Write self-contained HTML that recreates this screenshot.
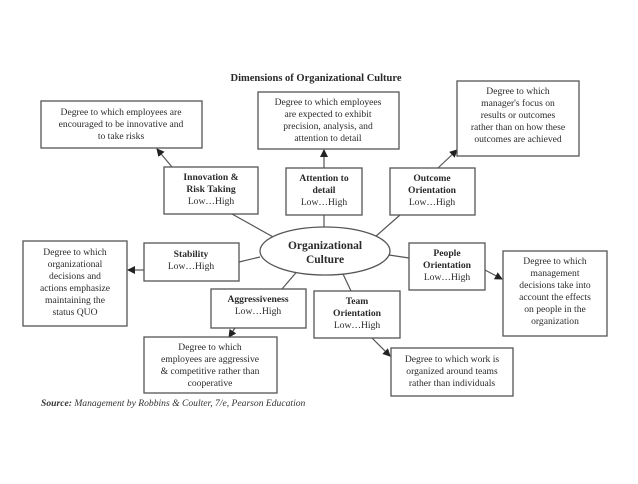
<!DOCTYPE html>
<html><head><style>
body{margin:0;background:#fff;}
.t{font-family:"Liberation Serif",serif;font-size:9.6px;fill:#2a2a2a;text-anchor:middle;}
.b{font-weight:bold;}
rect{fill:#fff;stroke:#555;stroke-width:1.3;}
line{stroke:#555;stroke-width:1.2;}
</style></head><body>
<svg width="638" height="479" viewBox="0 0 638 479" xmlns="http://www.w3.org/2000/svg">
<defs><marker id="a" markerWidth="8" markerHeight="8" refX="7" refY="4" orient="auto" markerUnits="userSpaceOnUse"><path d="M0,0 L8,4 L0,8 z" fill="#222"/></marker></defs>
<text x="316" y="81" class="t b" style="font-size:10.5px">Dimensions of Organizational Culture</text>
<!-- connectors -->
<line x1="232" y1="214" x2="275" y2="238"/>
<line x1="324" y1="215" x2="324" y2="227"/>
<line x1="400" y1="215" x2="375" y2="237"/>
<line x1="239" y1="262" x2="260" y2="257"/>
<line x1="282" y1="289" x2="300" y2="268"/>
<line x1="351" y1="291" x2="343" y2="274"/>
<line x1="409" y1="258" x2="389" y2="255"/>
<line x1="172" y1="167" x2="157" y2="149" marker-end="url(#a)"/>
<line x1="324" y1="168" x2="324" y2="150" marker-end="url(#a)"/>
<line x1="438" y1="168" x2="457" y2="150" marker-end="url(#a)"/>
<line x1="144" y1="270" x2="128" y2="270" marker-end="url(#a)"/>
<line x1="235" y1="328" x2="229" y2="337" marker-end="url(#a)"/>
<line x1="485" y1="270" x2="502" y2="279" marker-end="url(#a)"/>
<line x1="372" y1="338" x2="390" y2="356" marker-end="url(#a)"/>
<ellipse cx="325" cy="251" rx="65" ry="24" fill="#fff" stroke="#555" stroke-width="1.3"/>
<text x="325" y="249" class="t b" style="font-size:11.5px">Organizational</text>
<text x="325" y="263" class="t b" style="font-size:11.5px">Culture</text>
<!-- desc boxes -->
<rect x="41" y="101" width="161" height="47"/>
<text class="t" x="121" y="115">Degree to which employees are</text>
<text class="t" x="121" y="127">encouraged to be innovative and</text>
<text class="t" x="121" y="139">to take risks</text>
<rect x="258" y="92" width="141" height="57"/>
<text class="t" x="328" y="105">Degree to which employees</text>
<text class="t" x="328" y="117">are expected to exhibit</text>
<text class="t" x="328" y="129">precision, analysis, and</text>
<text class="t" x="328" y="141">attention to detail</text>
<rect x="457" y="81" width="122" height="75"/>
<text class="t" x="518" y="94">Degree to which</text>
<text class="t" x="518" y="106">manager's focus on</text>
<text class="t" x="518" y="118">results or outcomes</text>
<text class="t" x="518" y="130">rather than on how these</text>
<text class="t" x="518" y="142">outcomes are achieved</text>
<rect x="23" y="241" width="104" height="85"/>
<text class="t" x="75" y="255">Degree to which</text>
<text class="t" x="75" y="267">organizational</text>
<text class="t" x="75" y="279">decisions and</text>
<text class="t" x="75" y="291">actions emphasize</text>
<text class="t" x="75" y="303">maintaining the</text>
<text class="t" x="75" y="315">status QUO</text>
<rect x="144" y="337" width="133" height="56"/>
<text class="t" x="210" y="350">Degree to which</text>
<text class="t" x="210" y="362">employees are aggressive</text>
<text class="t" x="210" y="374">&amp; competitive rather than</text>
<text class="t" x="210" y="386">cooperative</text>
<rect x="503" y="251" width="104" height="85"/>
<text class="t" x="555" y="264">Degree to which</text>
<text class="t" x="555" y="276">management</text>
<text class="t" x="555" y="288">decisions take into</text>
<text class="t" x="555" y="300">account the effects</text>
<text class="t" x="555" y="312">on people in the</text>
<text class="t" x="555" y="324">organization</text>
<rect x="391" y="348" width="122" height="48"/>
<text class="t" x="452" y="362">Degree to which work is</text>
<text class="t" x="452" y="374">organized around teams</text>
<text class="t" x="452" y="386">rather than individuals</text>
<!-- dimension boxes -->
<rect x="164" y="167" width="94" height="47"/>
<text class="t b" x="211" y="180">Innovation &amp;</text>
<text class="t b" x="211" y="192">Risk Taking</text>
<text class="t" x="211" y="204">Low…High</text>
<rect x="286" y="168" width="76" height="47"/>
<text class="t b" x="324" y="181">Attention to</text>
<text class="t b" x="324" y="193">detail</text>
<text class="t" x="324" y="205">Low…High</text>
<rect x="390" y="168" width="85" height="47"/>
<text class="t b" x="432" y="181">Outcome</text>
<text class="t b" x="432" y="193">Orientation</text>
<text class="t" x="432" y="205">Low…High</text>
<rect x="144" y="243" width="95" height="38"/>
<text class="t b" x="191" y="257">Stability</text>
<text class="t" x="191" y="269">Low…High</text>
<rect x="211" y="289" width="95" height="39"/>
<text class="t b" x="258" y="302">Aggressiveness</text>
<text class="t" x="258" y="314">Low…High</text>
<rect x="409" y="243" width="76" height="47"/>
<text class="t b" x="447" y="256">People</text>
<text class="t b" x="447" y="268">Orientation</text>
<text class="t" x="447" y="280">Low…High</text>
<rect x="314" y="291" width="86" height="47"/>
<text class="t b" x="357" y="304">Team</text>
<text class="t b" x="357" y="316">Orientation</text>
<text class="t" x="357" y="328">Low…High</text>
<text x="41" y="406" style="font-family:'Liberation Serif',serif;font-size:9.6px;font-style:italic;fill:#333"><tspan font-weight="bold">Source:</tspan> Management by Robbins &amp; Coulter, 7/e, Pearson Education</text>
</svg>
</body></html>
